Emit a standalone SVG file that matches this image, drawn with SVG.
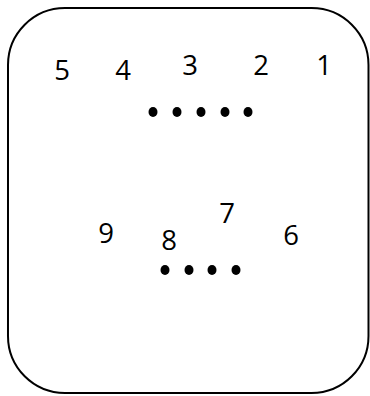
<svg xmlns="http://www.w3.org/2000/svg" width="370" height="396" viewBox="0 0 370 396">
<style>
text{font-family:"Open Sans","Liberation Sans",sans-serif;font-size:27.5px;fill:#000;text-anchor:middle}
.d{fill:#000}
</style>
<rect width="370" height="396" fill="#fff"/>
<g id="frame"><rect x="8" y="8" width="360.5" height="385" rx="57" ry="57" fill="none" stroke="#000" stroke-width="2"/></g>
<g id="n5"><text x="62" y="80">5</text></g>
<g id="n4"><text x="123" y="80">4</text></g>
<g id="n3"><text x="190" y="75">3</text></g>
<g id="n2"><text x="261" y="75">2</text></g>
<g id="n1"><text x="324" y="75">1</text></g>
<g id="dots-top">
<ellipse class="d" cx="153" cy="112" rx="4.5" ry="5"/>
<ellipse class="d" cx="177" cy="112" rx="4.5" ry="5"/>
<ellipse class="d" cx="201" cy="112" rx="4.5" ry="5"/>
<ellipse class="d" cx="225" cy="112" rx="4.5" ry="5"/>
<ellipse class="d" cx="248" cy="112" rx="4.5" ry="5"/>
</g>
<g id="n9"><text x="106" y="243">9</text></g>
<g id="n8"><text x="169" y="250">8</text></g>
<g id="n7"><text x="227" y="223">7</text></g>
<g id="n6"><text x="291" y="245">6</text></g>
<g id="dots-bottom">
<ellipse class="d" cx="165" cy="270" rx="4.5" ry="5"/>
<ellipse class="d" cx="189" cy="270" rx="4.5" ry="5"/>
<ellipse class="d" cx="212" cy="270" rx="4.5" ry="5"/>
<ellipse class="d" cx="236" cy="270" rx="4.5" ry="5"/>
</g>
<g id="connectors"></g>
</svg>
